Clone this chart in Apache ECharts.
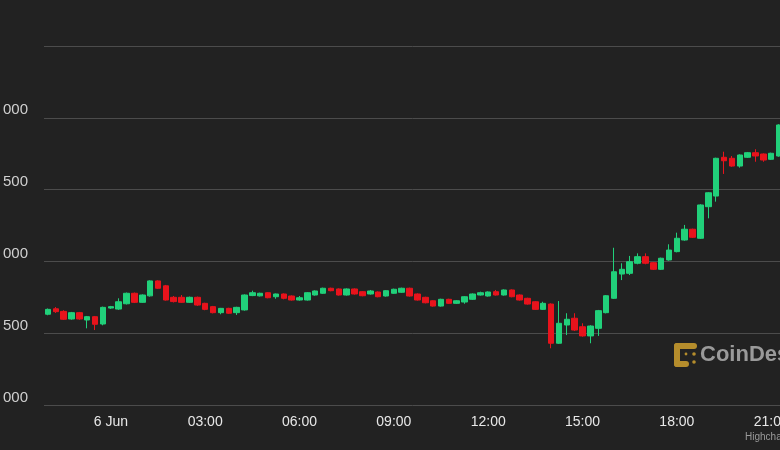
<!DOCTYPE html>
<html>
<head>
<meta charset="utf-8">
<script src="https://cdn.jsdelivr.net/npm/echarts@6/dist/echarts.min.js"></script>
<style>
html,body{margin:0;padding:0;background:#222222;}
#chart{width:780px;height:450px;}
</style>
</head>
<body>
<div id="chart"></div>
<script>
const times = [
"22:00","22:15","22:30","22:45","23:00","23:15","23:30","23:45",
"00:00","00:15","00:30","00:45","01:00","01:15","01:30","01:45",
"02:00","02:15","02:30","02:45","03:00","03:15","03:30","03:45",
"04:00","04:15","04:30","04:45","05:00","05:15","05:30","05:45",
"06:00","06:15","06:30","06:45","07:00","07:15","07:30","07:45",
"08:00","08:15","08:30","08:45","09:00","09:15","09:30","09:45",
"10:00","10:15","10:30","10:45","11:00","11:15","11:30","11:45",
"12:00","12:15","12:30","12:45","13:00","13:15","13:30","13:45",
"14:00","14:15","14:30","14:45","15:00","15:15","15:30","15:45",
"16:00","16:15","16:30","16:45","17:00","17:15","17:30","17:45",
"18:00","18:15","18:30","18:45","19:00","19:15","19:30","19:45",
"20:00","20:15","20:30","20:45","21:00","21:15"
];
const opens = [
25632,25670,25652,25599,25643,25592,25615,25564,25675,25668,
25705,25778,25715,25760,25864,25830,25750,25750,25715,25750,
25708,25685,25643,25673,25643,25662,25762,25760,25782,25754,
25773,25759,25731,25731,25766,25778,25813,25808,25766,25808,
25789,25773,25787,25759,25778,25785,25813,25773,25750,25726,
25689,25736,25708,25717,25736,25766,25759,25789,25766,25801,
25766,25743,25719,25666,25703,25430,25557,25604,25545,25481,
25534,25643,25743,25912,25917,25987,26033,25991,25945,26010,
26068,26149,26224,26161,26381,26455,26725,26718,26664,26725,
26757,26748,26711,26734
];
const closes = [
25666,25650,25597,25643,25599,25615,25562,25680,25685,25719,
25778,25715,25766,25864,25813,25731,25720,25715,25750,25696,
25666,25643,25673,25639,25680,25766,25782,25778,25747,25773,
25743,25731,25747,25782,25794,25813,25796,25766,25808,25773,
25761,25794,25754,25796,25806,25813,25759,25731,25712,25689,
25736,25708,25726,25754,25773,25782,25787,25766,25801,25754,
25731,25703,25666,25708,25430,25569,25597,25522,25481,25550,
25657,25761,25928,25945,25998,26033,25987,25945,26022,26079,
26161,26224,26168,26393,26478,26718,26701,26664,26741,26757,
26734,26706,26753,26950
];
const lows = [
25625,25641,25592,25594,25594,25534,25522,25555,25669,25662,
25700,25710,25712,25755,25808,25727,25714,25711,25711,25690,
25660,25638,25632,25634,25627,25657,25758,25756,25743,25740,
25736,25727,25727,25727,25762,25774,25792,25762,25762,25769,
25757,25769,25750,25755,25774,25781,25755,25727,25708,25685,
25685,25704,25704,25705,25732,25762,25755,25762,25762,25750,
25727,25699,25662,25662,25395,25425,25487,25515,25476,25430,
25481,25638,25738,25870,25905,25980,25980,25940,25940,26005,
26063,26144,26163,26156,26300,26416,26609,26659,26653,26720,
26694,26694,26706,26729
];
const highs = [
25672,25682,25660,25648,25648,25620,25620,25685,25690,25743,
25783,25783,25770,25868,25868,25836,25759,25766,25755,25755,
25712,25690,25676,25677,25684,25770,25796,25782,25786,25776,
25777,25763,25759,25786,25798,25817,25817,25812,25812,25812,
25793,25801,25791,25800,25810,25817,25817,25777,25754,25730,
25740,25740,25730,25758,25777,25789,25791,25801,25805,25805,
25770,25747,25723,25719,25708,25724,25639,25639,25569,25555,
25662,25766,26095,25987,26038,26056,26056,25995,26026,26119,
26200,26254,26228,26398,26482,26722,26764,26734,26745,26762,
26781,26752,26757,26955
];
const yMin = 25000, yMax = 27500, yStep = 500;

const ohlc = opens.map((o, i) => [o, closes[i], lows[i], highs[i]]);

const GREEN = '#21d07a', RED = '#e8131c';
const chart = echarts.init(document.getElementById('chart'), null, {renderer: 'canvas'});
chart.setOption({
  backgroundColor: '#222222',
  animation: false,
  grid: {left: 44, top: 46, bottom: 45, width: 739, containLabel: false, outerBoundsMode: 'none'},
  xAxis: {
    type: 'category',
    data: times,
    boundaryGap: true,
    axisLine: {show: false},
    axisTick: {show: false},
    splitLine: {show: false},
    axisLabel: {
      color: '#e8e8e8',
      fontFamily: 'Liberation Sans, Arial, sans-serif',
      fontSize: 14,
      margin: 10,
      hideOverlap: false,
      interval: (idx) => (idx - 8) % 12 === 0 && idx >= 8,
      formatter: (v) => v === '00:00' ? '6 Jun' : v
    }
  },
  yAxis: {
    type: 'value',
    min: yMin, max: yMax, interval: yStep,
    axisLine: {show: false},
    axisTick: {show: false},
    splitLine: {lineStyle: {color: '#4c4c4c', width: 1}},
    axisLabel: {
      showMaxLabel: false,
      color: '#d0d0d0',
      fontFamily: 'Liberation Sans, Arial, sans-serif',
      fontSize: 15,
      margin: 16,
      verticalAlign: 'bottom',
      formatter: (v) => Math.floor(v / 1000) + ' ' + String(v % 1000).padStart(3, '0')
    }
  },
  series: [{
    type: 'candlestick',
    data: ohlc,
    barWidth: 6,
    itemStyle: {color: GREEN, color0: RED, borderColor: GREEN, borderColor0: RED, borderWidth: 1}
  }],
  graphic: [
    {type: 'group', left: 674, top: 343, silent: true, children: [
      {type: 'rect', shape: {x: 0, y: 0, width: 23, height: 6, r: 3}, style: {fill: '#b58d2c'}},
      {type: 'rect', shape: {x: 0, y: 0, width: 6, height: 24, r: 3}, style: {fill: '#b58d2c'}},
      {type: 'rect', shape: {x: 0, y: 18, width: 15, height: 6, r: 3}, style: {fill: '#b58d2c'}},
      {type: 'circle', shape: {cx: 20, cy: 11, r: 1.8}, style: {fill: '#b58d2c'}},
      {type: 'circle', shape: {cx: 20, cy: 19, r: 1.8}, style: {fill: '#b58d2c'}},
      {type: 'circle', shape: {cx: 12, cy: 11, r: 1.4}, style: {fill: '#b58d2c'}}
    ]},
    {type: 'text', left: 700, top: 344, silent: true,
     style: {text: 'CoinDesk', fill: '#9a9a9a', font: 'bold 22px Liberation Sans, Arial, sans-serif'}},
    {type: 'text', left: 745, top: 432, silent: true,
     style: {text: 'Highcharts.com', fill: '#9a9a9a', font: '10px Liberation Sans, Arial, sans-serif'}}
  ]
});
</script>
</body>
</html>
